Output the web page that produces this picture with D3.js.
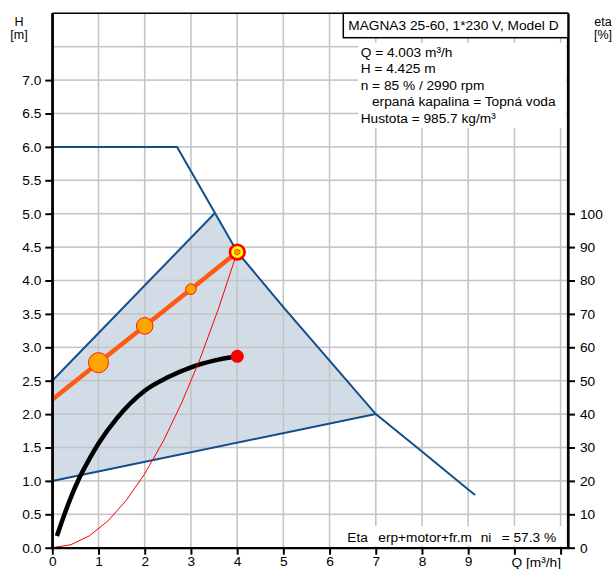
<!DOCTYPE html>
<html>
<head>
<meta charset="utf-8">
<script src="https://cdn.jsdelivr.net/npm/d3@7"></script>
<style>
  html, body { margin: 0; padding: 0; background: #fff; }
  svg text { font-family: "Liberation Sans", Arial, sans-serif; font-size: 13.7px; fill: #000; }
</style>
</head>
<body>
<svg id="chart" width="614" height="569"></svg>
<script>
// ── Data ─────────────────────────────────────────────────────────────────────

// max curve (dark blue)
const maxQ = [0, 2.7, 3.52, 4.0, 5.0, 6.0, 7.0, 8.0, 9.0, 9.15];
const maxH = [6.0, 6.0, 5.01, 4.43, 3.60, 2.80, 2.0, 1.44, 0.87, 0.79];

// working area edges (filled region)
const envTopQ = [0, 3.52];
const envTopH = [2.5, 5.01];
const envBotQ = [0, 7.0];
const envBotH = [1.0, 2.0];

// system curve (thin red)
const sysQ = [0, 0.4, 0.8, 1.2, 1.6, 2.0, 2.4, 2.8, 3.2, 3.6, 4.0];
const sysH = [0, 0.044, 0.177, 0.398, 0.708, 1.106, 1.593, 2.168, 2.832, 3.585, 4.425];

// control curve (orange) with markers
const ctrlQ = [0, 1, 2, 3, 4];
const ctrlH = [2.22, 2.77, 3.32, 3.87, 4.425];
const ctrlMarkQ = [1, 2, 3];

// efficiency curve (black, right axis)
const effQ   = [0.1, 0.25, 0.4, 0.6, 0.8, 1.0, 1.4, 2.0, 2.5, 3.0, 3.5, 4.0];
const effEta = [3.5, 9.5, 15, 21.3, 26.5, 31.2, 38.8, 47, 51, 54, 56, 57.3];

// duty point
const dutyQ = 4.003, dutyH = 4.425, dutyEta = 57.3;

// ticks and texts
const hTicks    = d3.range(0, 7.01, 0.5);
const hGrid     = d3.range(0.5, 7.51, 0.5);
const qTicks    = d3.range(0, 12);
const qGrid     = d3.range(1, 12);
const qLabels   = ["0", "1", "2", "3", "4", "5", "6", "7", "8", "9", "", ""];
const etaTicks  = d3.range(0, 101, 10);
const titleText = "MAGNA3 25-60, 1*230 V, Model D";
const infoLines = ["Q = 4.003 m³/h", "H = 4.425 m", "n = 85 % / 2990 rpm",
                   "erpaná kapalina = Topná voda", "Hustota = 985.7 kg/m³"];
const effParts  = ["Eta", "erp+motor+fr.m", "ni", "= 57.3 %"];

// ── Layout ───────────────────────────────────────────────────────────────────

const BLUE = "#124e8a";
const GRID = "#c3c5c8";
const GW = 1.6;
const plotL = 52.3, plotR = 568, plotT = 13.3, plotB = 547.7;

const x = d3.scaleLinear().domain([0, 11.16]).range([plotL, plotR]);
const y = d3.scaleLinear().domain([0, 8]).range([plotB, plotT]);
const yEta = d3.scaleLinear().domain([0, 160]).range([plotB, plotT]);

const svg = d3.select("#chart");
svg.append("rect").attr("width", 614).attr("height", 569).attr("fill", "#fff");

const zip = (qs, vs) => qs.map((q, i) => [q, vs[i]]);
const lineH = d3.line().x(d => x(d[0])).y(d => y(d[1]));

// working area fill
const maxPts = zip(maxQ, maxH);
const areaPts = zip(envTopQ, envTopH)
  .concat(maxPts.filter(d => d[0] > envTopQ[1] && d[0] <= envBotQ[1]))
  .concat(zip(envBotQ, envBotH).reverse());
svg.append("path").attr("d", lineH(areaPts) + "Z").attr("fill", "#d1dce7");

// grid, drawn over the fill as thin filled bars
const gridG = svg.append("g").attr("id", "grid");
qGrid.forEach(q => {
  gridG.append("rect")
    .attr("x", x(q) - GW / 2).attr("y", plotT)
    .attr("width", GW).attr("height", plotB - plotT)
    .style("fill", GRID);
});
hGrid.forEach(h => {
  gridG.append("rect")
    .attr("x", plotL).attr("y", y(h) - GW / 2)
    .attr("width", plotR - plotL).attr("height", GW)
    .style("fill", GRID);
});

// white panels behind the texts
svg.append("rect").attr("x", 358).attr("y", 43).attr("width", 208).attr("height", 85).attr("fill", "#fff");
svg.append("rect").attr("x", 345).attr("y", 526).attr("width", 221).attr("height", 20).attr("fill", "#fff");

// working area edges + max curve
const blue = svg.append("g").attr("fill", "none").attr("stroke", BLUE).attr("stroke-width", 2);
blue.append("path").attr("d", lineH(zip(envTopQ, envTopH)));
blue.append("path").attr("d", lineH(zip(envBotQ, envBotH)));
blue.append("path").attr("d", lineH(maxPts));

// efficiency curve
svg.append("path")
  .attr("d", d3.line().curve(d3.curveMonotoneX).x(d => x(d[0])).y(d => yEta(d[1]))(zip(effQ, effEta)))
  .attr("fill", "none").attr("stroke", "#000").attr("stroke-width", 4.5);

// system curve
svg.append("path").attr("d", lineH(zip(sysQ, sysH)))
  .attr("fill", "none").attr("stroke", "#ff0000").attr("stroke-width", 1);

// control curve
svg.append("path").attr("d", lineH(zip(ctrlQ, ctrlH)))
  .attr("fill", "none").attr("stroke", "#ff5a14").attr("stroke-width", 4.5);
const markR = [10, 8.3, 5.3];
svg.selectAll("circle.mk").data(ctrlMarkQ).join("circle")
  .attr("class", "mk")
  .attr("cx", d => x(d)).attr("cy", d => y(ctrlH[ctrlQ.indexOf(d)]))
  .attr("r", (d, i) => markR[i])
  .attr("fill", "#ffa500").attr("stroke", "#ff1a00").attr("stroke-width", 1);

// efficiency duty point
svg.append("circle").attr("cx", x(dutyQ)).attr("cy", yEta(dutyEta)).attr("r", 6.5).attr("fill", "#ff0000");

// duty point marker
svg.append("circle").attr("cx", x(dutyQ)).attr("cy", y(dutyH)).attr("r", 7.3)
  .attr("fill", "#ffff00").attr("stroke", "#ff0000").attr("stroke-width", 2.6);
svg.append("circle").attr("cx", x(dutyQ)).attr("cy", y(dutyH)).attr("r", 2.8)
  .attr("fill", "#ffa500").attr("stroke", "#ff3000").attr("stroke-width", 0.8);

// ── Axes ─────────────────────────────────────────────────────────────────────

function styleAxis(g) {
  g.select(".domain").attr("stroke", "#000").attr("stroke-width", 2.2);
  g.selectAll(".tick line").attr("stroke", "#000").attr("stroke-width", 2);
  g.selectAll(".tick text").attr("fill", "#000").style("font-size", "13.7px")
    .style("font-family", "'Liberation Sans', Arial, sans-serif");
}

svg.append("g").attr("transform", `translate(${plotL},0)`)
  .call(d3.axisLeft(y).tickValues(hTicks).tickFormat(d3.format(".1f")).tickSize(7).tickPadding(4).tickSizeOuter(0))
  .call(styleAxis);

svg.append("g").attr("transform", `translate(0,${plotB})`)
  .call(d3.axisBottom(x).tickValues(qTicks).tickFormat((d, i) => qLabels[i]).tickSize(7).tickPadding(2).tickSizeOuter(0))
  .call(styleAxis);

svg.append("g").attr("transform", `translate(${plotR},0)`)
  .call(d3.axisRight(yEta).tickValues(etaTicks).tickSize(7).tickPadding(5).tickSizeOuter(0))
  .call(styleAxis);
svg.append("line").attr("x1", plotR).attr("x2", plotR).attr("y1", plotT).attr("y2", plotB)
  .attr("stroke", "#000").attr("stroke-width", 2.2);
svg.append("line").attr("x1", plotL).attr("x2", plotL).attr("y1", plotT).attr("y2", plotB)
  .attr("stroke", "#000").attr("stroke-width", 2.2);

// top frame
svg.append("line").attr("x1", plotL).attr("x2", plotR).attr("y1", plotT).attr("y2", plotT)
  .attr("stroke", "#000").attr("stroke-width", 1.5);

// axis titles
const unitStyle = t => t.attr("text-anchor", "middle").style("font-size", "12.5px");
svg.append("text").attr("x", 19).attr("y", 25.5).call(unitStyle).text("H");
svg.append("text").attr("x", 19).attr("y", 39).call(unitStyle).text("[m]");
svg.append("text").attr("x", 603).attr("y", 25.5).call(unitStyle).text("eta");
svg.append("text").attr("x", 603).attr("y", 39).call(unitStyle).text("[%]");
svg.append("text").attr("x", 511.5).attr("y", 566.5).text("Q [m³/h]");

// title box
svg.append("rect").attr("x", 343.3).attr("y", 13.3).attr("width", plotR - 343.3).attr("height", 24.4)
  .attr("fill", "#fff").attr("stroke", "#000").attr("stroke-width", 1.5);
svg.append("text").attr("x", 348.3).attr("y", 30).text(titleText);

// info lines
svg.selectAll("text.info").data(infoLines).join("text")
  .attr("class", "info")
  .attr("x", (d, i) => i === 3 ? 372 : 360.7)
  .attr("y", (d, i) => 56.5 + i * 16.5)
  .text(d => d);

// efficiency text
const effX = [347.3, 378.3, 480.7, 501.7];
svg.selectAll("text.eff").data(effParts).join("text")
  .attr("class", "eff")
  .attr("x", (d, i) => effX[i]).attr("y", 541.5).text(d => d);
</script>
</body>
</html>
